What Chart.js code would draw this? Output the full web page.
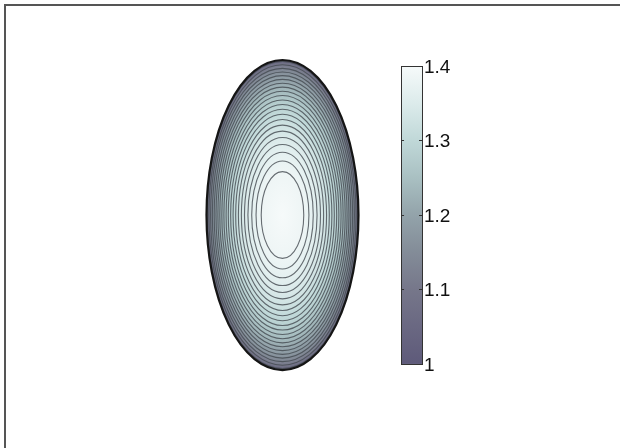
<!DOCTYPE html>
<html>
<head>
<meta charset="utf-8">
<script src="https://cdn.jsdelivr.net/npm/chart.js@4"></script>
<style>
  html, body { margin: 0; padding: 0; background: #fff; }
  canvas { display: block; }
</style>
</head>
<body>
<canvas id="contourChart" width="620" height="448"></canvas>
<script>
// relative size of each contour ellipse (1 = outer boundary)
const contourRadii = [0.28, 0.348, 0.405, 0.455, 0.50, 0.541, 0.58, 0.616, 0.65, 0.682, 0.713,
                      0.742, 0.771, 0.798, 0.825, 0.85, 0.875, 0.899, 0.923, 0.946, 0.969, 0.99];
// value shown at each of those contours (boundary is 1.0, peak 1.4 at the centre)
const contourLevels = [1.384, 1.375, 1.366, 1.356, 1.346, 1.336, 1.326, 1.315, 1.304, 1.293, 1.281,
                       1.268, 1.255, 1.241, 1.226, 1.211, 1.194, 1.175, 1.154, 1.130, 1.099, 1.056];
// outer boundary half sizes in data units
const ellipseHalfWidth = 1;
const ellipseHalfHeight = 2;

// colour bar
const colorbarTicks = [1, 1.1, 1.2, 1.3, 1.4];
const colorbarTickLabels = ["1", "1.1", "1.2", "1.3", "1.4"];
const cmapValues = [1.0, 1.05, 1.1, 1.15, 1.2, 1.25, 1.3, 1.35, 1.4];
const cmapColors = ["#5e5a7a", "#6a6882", "#76778a", "#838c98", "#93a3aa",
                    "#a9c0c2", "#c0d8d8", "#dcebeb", "#f6fafa"];

function hexToRgb(h) {
  return [parseInt(h.slice(1, 3), 16), parseInt(h.slice(3, 5), 16), parseInt(h.slice(5, 7), 16)];
}

function colorAt(v) {
  if (v <= cmapValues[0]) return cmapColors[0];
  for (let i = 1; i < cmapValues.length; i++) {
    if (v <= cmapValues[i]) {
      const t = (v - cmapValues[i - 1]) / (cmapValues[i] - cmapValues[i - 1]);
      const a = hexToRgb(cmapColors[i - 1]), b = hexToRgb(cmapColors[i]);
      const c = a.map((ch, k) => Math.round(ch + (b[k] - ch) * t));
      return `rgb(${c[0]},${c[1]},${c[2]})`;
    }
  }
  return cmapColors[cmapColors.length - 1];
}

const contourPlugin = {
  id: "contours",
  beforeDatasetsDraw(chart) {
    const { ctx, scales: { x, y, cb } } = chart;
    const cx = x.getPixelForValue(0);
    const cy = y.getPixelForValue(0);
    const rx = x.getPixelForValue(ellipseHalfWidth) - cx;
    const ry = cy - y.getPixelForValue(ellipseHalfHeight);

    // smooth shading
    ctx.save();
    ctx.translate(cx, cy);
    ctx.scale(1, ry / rx);
    const g = ctx.createRadialGradient(0, 0, 0, 0, 0, rx);
    g.addColorStop(0, colorAt(1.4));
    contourRadii.forEach((r, i) => g.addColorStop(r, colorAt(contourLevels[i])));
    g.addColorStop(1, colorAt(1.0));
    ctx.fillStyle = g;
    ctx.beginPath();
    ctx.arc(0, 0, rx, 0, Math.PI * 2);
    ctx.fill();
    ctx.restore();

    // contour lines
    ctx.save();
    ctx.strokeStyle = "rgba(68,74,80,0.8)";
    ctx.lineWidth = 1.1;
    contourRadii.forEach((r) => {
      ctx.beginPath();
      ctx.ellipse(cx, cy, rx * r, ry * r, 0, 0, Math.PI * 2);
      ctx.stroke();
    });
    // outer boundary
    ctx.strokeStyle = "#151515";
    ctx.lineWidth = 2.2;
    ctx.beginPath();
    ctx.ellipse(cx, cy, rx, ry, 0, 0, Math.PI * 2);
    ctx.stroke();
    ctx.restore();

    // colour bar
    const left = x.getPixelForValue(1.56);
    const right = x.getPixelForValue(1.836);
    const top = cb.getPixelForValue(1.4);
    const bottom = cb.getPixelForValue(1.0);
    const lg = ctx.createLinearGradient(0, bottom, 0, top);
    cmapValues.forEach((v, i) => lg.addColorStop((v - 1.0) / 0.4, cmapColors[i]));
    ctx.save();
    ctx.fillStyle = lg;
    ctx.fillRect(left, top, right - left, bottom - top);
    ctx.strokeStyle = "#333";
    ctx.lineWidth = 1;
    ctx.strokeRect(Math.round(left) + 0.5, Math.round(top) + 0.5,
                   Math.round(right - left), Math.round(bottom - top));
    ctx.fillStyle = "#111";
    ctx.font = "19px 'Liberation Sans', Arial, sans-serif";
    ctx.textBaseline = "middle";
    ctx.textAlign = "left";
    colorbarTicks.forEach((t, i) => {
      const py = Math.round(cb.getPixelForValue(t)) + 0.5;
      ctx.beginPath();
      ctx.moveTo(left, py); ctx.lineTo(left + 3, py);
      ctx.moveTo(right, py); ctx.lineTo(right - 3, py);
      ctx.stroke();
      ctx.fillText(colorbarTickLabels[i], right + 2, py + 1);
    });
    ctx.restore();

    // figure frame (only top and left edges are visible)
    ctx.save();
    ctx.strokeStyle = "#555";
    ctx.lineWidth = 2;
    ctx.beginPath();
    ctx.moveTo(5, chart.height);
    ctx.lineTo(5, 5);
    ctx.lineTo(chart.width, 5);
    ctx.stroke();
    ctx.restore();
  }
};

new Chart(document.getElementById("contourChart"), {
  type: "scatter",
  data: { datasets: [] },
  options: {
    responsive: false,
    animation: false,
    devicePixelRatio: 1,
    layout: { padding: 0 },
    plugins: { legend: { display: false }, tooltip: { enabled: false } },
    scales: {
      x: { type: "linear", display: false, min: -3.717, max: 4.441 },
      y: { type: "linear", display: false, min: -3.006, max: 2.774 },
      cb: { type: "linear", display: false, position: "right", min: 0.8872, max: 1.4886 }
    }
  },
  plugins: [contourPlugin]
});
</script>
</body>
</html>
